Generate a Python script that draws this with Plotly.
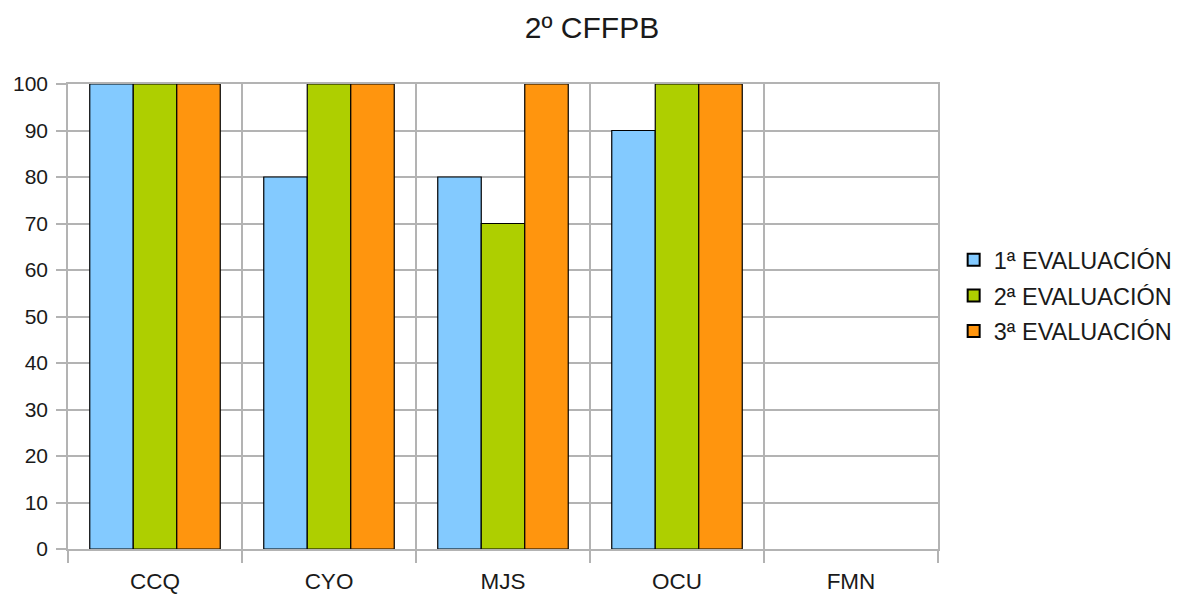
import plotly.graph_objects as go

categories = ["CCQ", "CYO", "MJS", "OCU", "FMN"]
series_names = ["1ª EVALUACIÓN", "2ª EVALUACIÓN", "3ª EVALUACIÓN"]
eval1 = [100, 80, 80, 90, None]
eval2 = [100, 100, 70, 100, None]
eval3 = [100, 100, 100, 100, None]
colors = ["#83caff", "#aecf00", "#ff950e"]

fig = go.Figure()
for i, (name, vals, col) in enumerate(zip(series_names, [eval1, eval2, eval3], colors)):
    fig.add_trace(go.Bar(
        x=categories, y=vals, name=name, legendgroup=f"g{i}",
        marker=dict(color=col, line=dict(color="#000000", width=1.2)),
    ))

grid = "#b3b3b3"
fig.update_layout(
    width=1179, height=594,
    paper_bgcolor="white", plot_bgcolor="white",
    font=dict(family="Liberation Sans, Arial, sans-serif", size=22, color="#1a1a1a"),
    title=dict(text="2º CFFPB", x=584 / 1179, xanchor="center", y=1 - 19 / 594, yanchor="middle",
               font=dict(size=30, color="#1a1a1a")),
    margin=dict(l=60, r=249, t=76, b=53, autoexpand=False),
    barmode="group", bargap=0.25, bargroupgap=0,
    showlegend=True,
    legend=dict(x=0.018, xref="paper", xanchor="left", y=0.545, yanchor="middle",
                font=dict(size=23.5), itemsizing="constant", tracegroupgap=2,
                bgcolor="rgba(0,0,0,0)"),
    xaxis=dict(
        type="category", tickson="boundaries", ticks="outside", ticklen=12,
        tickcolor=grid, tickwidth=1.5, showgrid=True, gridcolor=grid, gridwidth=1.5,
        showline=True, linecolor=grid, linewidth=1.5, mirror=True,
        range=[-0.5, 4.5], fixedrange=True, ticklabelstandoff=11,
        tickfont=dict(size=22.5), automargin=False,
    ),
    yaxis=dict(
        range=[0, 100], dtick=10, ticks="outside", ticklen=10, tickcolor=grid,
        tickwidth=1.5, showgrid=True, gridcolor=grid, gridwidth=1.5,
        showline=True, linecolor=grid, linewidth=1.5, mirror=True,
        zeroline=False, ticklabelstandoff=4, tickfont=dict(size=21), automargin=False,
    ),
)
fig.update_layout(legend_x=1.018)

fig.write_html("out.html")
